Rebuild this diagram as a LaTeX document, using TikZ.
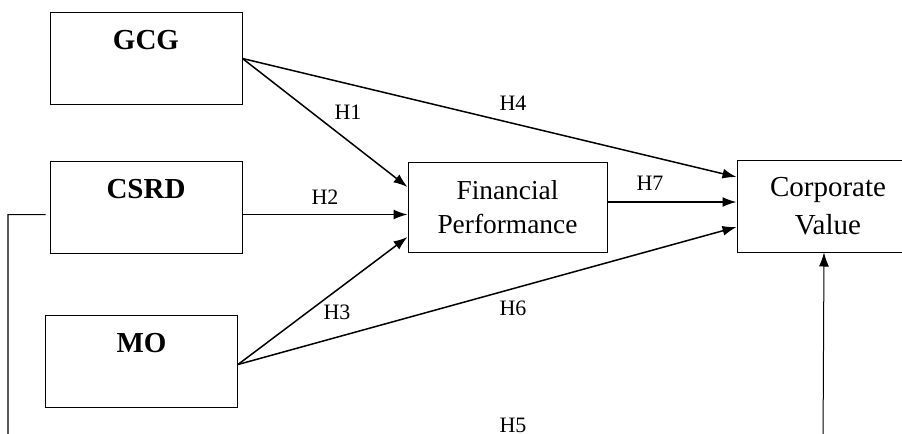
\documentclass[tikz,border=0pt]{standalone}
\usepackage{fontspec}
\setmainfont{Liberation Serif}
\usetikzlibrary{arrows.meta, positioning}
\tikzset{
>={Latex[length=7pt,width=5pt]}, % filled arrow heads
varbox/.style={draw, line width=0.5pt, minimum width=96pt, inner sep=0pt, text height=18.5pt, text depth=27.5pt, font=\fontsize{14.5}{17}\selectfont\bfseries}, % boxes with the name at the top
midbox/.style={draw, line width=0.5pt, align=center, minimum width=99.5pt, minimum height=45pt, font=\fontsize{13.7}{17}\selectfont},
endbox/.style={draw, line width=0.5pt, align=center, minimum width=91pt, minimum height=46pt, font=\fontsize{14.5}{19}\selectfont},
hyp/.style={->, line width=0.75pt},
hlabel/.style={font=\fontsize{11}{13}\selectfont, inner sep=0pt},
}
\begin{document}
\begin{tikzpicture}[x=0.5pt, y=-0.5pt]
    \useasboundingbox (0,0) rectangle (902,434);

    \node[varbox] (gcg) at (146,58.5) {GCG};
    \node[varbox, below=28pt of gcg] (csrd) {CSRD};
    \node[varbox, below=30.5pt of csrd, xshift=-2.25pt] (mo) {MO};
    \node[midbox] (fp) at (507.5,207) {Financial\\Performance};
    \node[endbox, right=64.5pt of fp, yshift=0.5pt] (cv) {Corporate\\Value};

    \coordinate (h5l) at (8,448);
    \coordinate (h5r) at (823,448);

    \draw[hyp] (gcg.east) -- ([yshift=10pt]fp.west);
    \draw[hyp] (gcg.east) -- ([yshift=14.5pt]cv.west);
    \draw[hyp] ([yshift=-3.5pt]csrd.east) -- ([yshift=-3.5pt]csrd.east -| fp.west);
    \draw[hyp] ([yshift=-1.5pt]mo.east) -- ([yshift=-15pt]fp.west);
    \draw[hyp] ([yshift=-1.5pt]mo.east) -- ([yshift=-10.5pt]cv.west);
    \draw[hyp] ([yshift=2.5pt]fp.east) -- ([yshift=2.5pt]fp.east -| cv.west);
    \draw[hyp, line width=0.5pt] ([xshift=-2pt,yshift=-3.5pt]csrd.west) -| (h5l) -- (h5r) -- ([xshift=-2pt]cv.south);

    \node[hlabel] (h1) at (348,112) {H1};
    \node[hlabel] (h2) at (325,197) {H2};
    \node[hlabel] (h3) at (337,312) {H3};
    \node[hlabel] (h4) at (513,103) {H4};
    \node[hlabel] (h5) at (513,425) {H5};
    \node[hlabel] (h6) at (513,308) {H6};
    \node[hlabel] (h7) at (650,183) {H7};
\end{tikzpicture}
\end{document}
